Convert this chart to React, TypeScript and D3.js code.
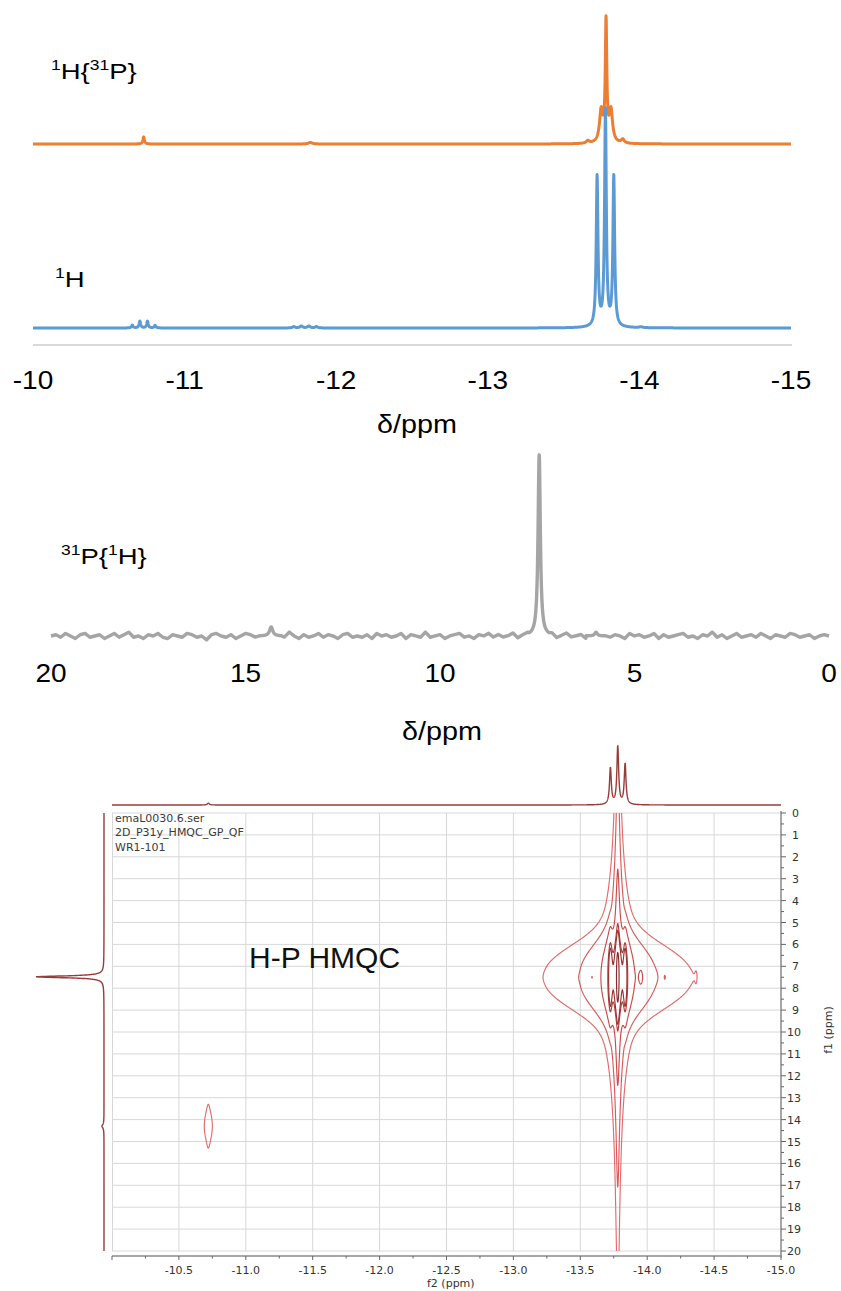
import React, { useMemo } from "react";
import * as d3 from "d3";

// ---------------- DATA ----------------
// Top panel (1H region), ppm ticks
const hTicks = [-10, -11, -12, -13, -14, -15];
// [ppm, relative height, half-width (ppm)]
const orangePeaks = [
  [-13.78, 0.93, 0.006],
  [-13.748, 0.25, 0.013],
  [-13.812, 0.25, 0.013],
  [-13.66, 0.02, 0.012],
  [-13.89, 0.03, 0.012],
  [-10.73, 0.055, 0.006],
  [-11.83, 0.012, 0.015],
];
const bluePeaks = [
  [-13.721, 0.68, 0.0068],
  [-13.776, 0.98, 0.0068],
  [-13.831, 0.68, 0.0068],
  [-10.655, 0.013, 0.006],
  [-10.705, 0.031, 0.006],
  [-10.755, 0.031, 0.006],
  [-10.805, 0.012, 0.006],
  [-11.72, 0.006, 0.01],
  [-11.77, 0.009, 0.01],
  [-11.82, 0.009, 0.01],
  [-11.87, 0.006, 0.01],
  [-14.01, 0.004, 0.012],
];

// Middle panel (31P{1H})
const pTicks = [20, 15, 10, 5, 0];
const pPeaks = [
  [7.45, 1.0, 0.035],
  [14.34, 0.05, 0.05],
  [5.99, 0.02, 0.04],
];
// baseline noise, 20 -> 0 ppm, arbitrary units
const pNoise = [
  0, 1, -1, 2, 0, -2, 1, 2, -1, 0,
  1, -2, 0, 2, -1, 1, 3, -1, 0, -2,
  1, 0, 2, -1, -2, 1, 0, -1, 2, 1,
  -1, 0, -3, 1, 2, 0, -1, 1, -2, 0,
  2, 1, -1, 0, 1, -2, 2, 0, -1, 3,
  0, -2, 1, -1, 0, 2, -1, 1, 0, -2,
  1, 2, -1, 0, -1, 1, -2, 2, 0, 1,
  -1, 0, 2, -2, 1, 0, -1, 3, -1, 0,
  1, -2, 0, 1, 2, -1, 0, -2, 1, 0,
  2, -1, 1, -1, 0, 2, -2, 0, 1, -1,
  3, 0, -1, 1, -2, 0, 2, -1, 0, 1,
  -2, 1, 0, 2, -1, -1, 1, 0, -2, 2,
  0, 1, -1, 0, 2, -2, 1, -1, 0, 1,
  2, -1, 0, -2, 1, 0, 3, -1, 1, -2,
  0, 2, -1, 0, 1, -1, 2, 0, -2, 1,
  0, -1, 2, 1, -1, 0, 1, -2, 0, 1, 0,
];

// 2D HMQC
const f2Ticks = [-10.0, -10.5, -11.0, -11.5, -12.0, -12.5, -13.0, -13.5, -14.0, -14.5, -15.0];
const f1Ticks = d3.range(0, 21, 1);
const hmqcF2 = [-13.725, -13.78, -13.835];
const hmqcAmp = [0.5, 1.0, 0.5];
const hmqcF1 = 7.5;
const hmqcWidthF2 = 0.0113; // triplet line half-width
const hmqcEnvF2 = -13.78; // t1-ridge centre
const hmqcEnvWidth = 0.011;
const contourLevels = [6.6e-4, 2.55e-3, 0.0163, 0.099, 0.15, 0.6];
const contourColors = ["#e26b6b", "#d95a5a", "#cc4a4a", "#b23c3c", "#9a3232", "#862a2a"];
// [f2, f1, amplitude, f2 half-width, f1 sigma]
const hmqcSatellites = [
  [-13.953, 7.5, 0.0168, 0.015, 0.28],
  [-14.365, 7.5, 0.00012, 0.008, 0.3],
  [-13.587, 7.5, 0.0108, 0.01, 0.15],
  [-14.132, 7.5, 0.00095, 0.008, 0.15],
];
const hmqcWeak = [-10.72, 14.3, 0.0066, 0.01, 0.466];
// projections
const projTopPeaks = [
  [-13.725, 0.63, 0.008],
  [-13.78, 1.0, 0.008],
  [-13.835, 0.7, 0.008],
  [-10.72, 0.03, 0.01],
];
const projLeftPeaks = [
  [7.48, 1.0, 0.05],
  [14.3, 0.03, 0.1],
];
const hmqcInfo = ["emaL0030.6.ser", "2D_P31y_HMQC_GP_QF", "WR1-101"];

// ---------------- HELPERS ----------------
function lor(x: number, peaks: number[][]) {
  let s = 0;
  for (const [c, h, w] of peaks) {
    const d = (x - c) / w;
    s += h / (1 + d * d);
  }
  return s;
}
// f1 line shape: flat-topped core and a long tail
function f1Core(d: number) {
  return Math.exp(-Math.pow(Math.abs(d) / 1.45, 2.5));
}
function f1Tail(d: number) {
  return 1 / Math.pow(1 + (d * d) / 3.16, 1.5);
}
function sat(f2: number, f1: number, s: number[]) {
  const [c2, c1, a, w, sg] = s;
  const dx = (f2 - c2) / w;
  const dy = f1 - c1;
  return (a / (1 + dx * dx)) * Math.exp((-dy * dy) / (2 * sg * sg));
}

const ARIAL = "Liberation Sans, Arial, Helvetica, sans-serif";
const MNOVA = "DejaVu Sans, Verdana, sans-serif";

export default function App() {
  const W = 841;
  const H = 1291;

  // ---- top panel ----
  const xH = d3.scaleLinear().domain([-10, -15]).range([33, 791]);
  const yOr = d3.scaleLinear().domain([0, 1]).range([144, 16]);
  const yBl = d3.scaleLinear().domain([0, 1]).range([328, 108]);
  const hGrid = d3.range(0, 5001).map((i) => -10 - i * 0.001);
  const orangeD = d3.line<number>().x((p) => xH(p)).y((p) => yOr(lor(p, orangePeaks)))(hGrid);
  const blueD = d3.line<number>().x((p) => xH(p)).y((p) => yBl(lor(p, bluePeaks)))(hGrid);

  // ---- middle panel ----
  const xP = d3.scaleLinear().domain([20, 0]).range([51, 829]);
  const yP = d3.scaleLinear().domain([0, 1]).range([636, 455]);
  const grayD = useMemo(() => {
    const windows = pPeaks.map(([c]) => [c - 0.25, c + 0.25]);
    const pts: number[][] = [];
    pNoise.forEach((n, i) => {
      const p = 20 - (i * 20) / (pNoise.length - 1);
      if (!windows.some(([a, b]) => p > a && p < b)) pts.push([p, lor(p, pPeaks) + n * 0.007]);
    });
    windows.forEach(([a, b]) => {
      for (let p = a; p <= b; p += 0.002) pts.push([p, lor(p, pPeaks)]);
    });
    pts.sort((u, v) => v[0] - u[0]);
    return d3.line<number[]>().x((d) => xP(d[0])).y((d) => yP(d[1]))(pts);
  }, []);

  // ---- 2D panel ----
  const x2 = d3.scaleLinear().domain([-10, -15]).range([112, 781]);
  const y2 = d3.scaleLinear().domain([0, 20]).range([813, 1251]);

  const contours = useMemo(() => {
    const out: { d: string; level: number }[] = [];
    const build = (f2a: number, f2b: number, nx: number, f1a: number, f1b: number, ny: number, levels: number[], useMain: boolean) => {
      const vals = new Array(nx * ny);
      const ftrip = new Float64Array(nx);
      const fenv = new Float64Array(nx);
      const core = new Float64Array(ny);
      const tail = new Float64Array(ny);
      for (let i = 0; i < nx; i++) {
        const f2 = f2a + ((f2b - f2a) * i) / (nx - 1);
        let s = 0;
        for (let k = 0; k < hmqcF2.length; k++) {
          const d = (f2 - hmqcF2[k]) / hmqcWidthF2;
          s += hmqcAmp[k] / (1 + d * d);
        }
        ftrip[i] = s;
        const e = (f2 - hmqcEnvF2) / hmqcEnvWidth;
        fenv[i] = 1 / (1 + e * e);
      }
      for (let j = 0; j < ny; j++) {
        const f1 = f1a + ((f1b - f1a) * j) / (ny - 1);
        core[j] = 0.58 * f1Core(f1 - hmqcF1);
        tail[j] = 0.42 * f1Tail(f1 - hmqcF1);
      }
      for (let j = 0; j < ny; j++) {
        const f1 = f1a + ((f1b - f1a) * j) / (ny - 1);
        for (let i = 0; i < nx; i++) {
          const f2 = f2a + ((f2b - f2a) * i) / (nx - 1);
          let v = 0;
          if (useMain) {
            v = ftrip[i] * core[j] + fenv[i] * tail[j];
            for (const s of hmqcSatellites) v += sat(f2, f1, s);
          } else v = sat(f2, f1, hmqcWeak);
          vals[i + j * nx] = v;
        }
      }
      const cs = d3.contours().size([nx, ny]).thresholds(levels)(vals);
      const proj = d3.geoTransform({
        point(x: number, y: number) {
          // @ts-ignore
          this.stream.point(
            x2(f2a + ((f2b - f2a) * (x - 0.5)) / (nx - 1)),
            y2(f1a + ((f1b - f1a) * (y - 0.5)) / (ny - 1))
          );
        },
      });
      const path = d3.geoPath(proj);
      cs.forEach((c) => {
        const d = path(c as any);
        if (d) out.push({ d, level: levels.indexOf(c.value) });
      });
    };
    build(-13.0, -14.6, 641, -1, 21, 441, contourLevels, true);
    build(-10.6, -10.84, 97, 11.5, 17, 111, [contourLevels[0]], false);
    return out;
  }, []);

  const yProj = d3.scaleLinear().domain([0, 1]).range([805, 747]);
  const topProjD = d3.line<number>().x((p) => x2(p)).y((p) => yProj(lor(p, projTopPeaks)))(hGrid);
  const xProj = d3.scaleLinear().domain([0, 1]).range([104, 36]);
  const f1Grid = d3.range(0, 4001).map((i) => i * 0.005);
  const leftProjD = d3.line<number>().x((p) => xProj(lor(p, projLeftPeaks))).y((p) => y2(p))(f1Grid);

  const gridCol = "#d8d8d8";
  const axisCol = "#8a8a8a";

  return (
    <svg width={W} height={H} style={{ position: "absolute", left: 0, top: 0, display: "block", background: "#fff" }}>
      <rect x={0} y={0} width={W} height={H} fill="#fff" />
      {/* ===== TOP PANEL ===== */}
      <line x1={33} x2={792} y1={345} y2={345} stroke="#d9d9d9" strokeWidth={2} />
      <path d={orangeD || ""} fill="none" stroke="#ed7d31" strokeWidth={3} strokeLinejoin="round" />
      <path d={blueD || ""} fill="none" stroke="#5b9bd5" strokeWidth={3} strokeLinejoin="round" />
      {hTicks.map((t) => (
        <text key={t} transform={`translate(${xH(t)},389) scale(1.12,1)`} textAnchor="middle" fontSize={25} fontFamily={ARIAL} fill="#000">
          {String(t)}
        </text>
      ))}
      <text transform="translate(417,433) scale(1.15,1)" textAnchor="middle" fontSize={25} fontFamily={ARIAL} fill="#000">
        δ/ppm
      </text>
      <text transform="translate(51,79) scale(1.25,1)" fontSize={22} fontFamily={ARIAL} fill="#000">
        <tspan fontSize={14} dy={-9}>1</tspan>
        <tspan dy={9}>{"H{"}</tspan>
        <tspan fontSize={14} dy={-9}>31</tspan>
        <tspan dy={9}>{"P}"}</tspan>
      </text>
      <text transform="translate(55,287) scale(1.25,1)" fontSize={22} fontFamily={ARIAL} fill="#000">
        <tspan fontSize={14} dy={-9}>1</tspan>
        <tspan dy={9}>H</tspan>
      </text>

      {/* ===== MIDDLE PANEL ===== */}
      <path d={grayD || ""} fill="none" stroke="#a5a5a5" strokeWidth={3.4} strokeLinejoin="round" />
      {pTicks.map((t) => (
        <text key={t} transform={`translate(${xP(t)},682) scale(1.12,1)`} textAnchor="middle" fontSize={25} fontFamily={ARIAL} fill="#000">
          {String(t)}
        </text>
      ))}
      <text transform="translate(442,740) scale(1.15,1)" textAnchor="middle" fontSize={25} fontFamily={ARIAL} fill="#000">
        δ/ppm
      </text>
      <text transform="translate(61,564) scale(1.25,1)" fontSize={22} fontFamily={ARIAL} fill="#000">
        <tspan fontSize={14} dy={-9}>31</tspan>
        <tspan dy={9}>{"P{"}</tspan>
        <tspan fontSize={14} dy={-9}>1</tspan>
        <tspan dy={9}>{"H}"}</tspan>
      </text>

      {/* ===== 2D PANEL ===== */}
      <defs>
        <clipPath id="plotClip">
          <rect x={112} y={813} width={669} height={438} />
        </clipPath>
      </defs>
      {/* grid */}
      {f2Ticks.slice(1, -1).map((t) => (
        <line key={"gv" + t} x1={x2(t)} x2={x2(t)} y1={813} y2={1251} stroke={gridCol} strokeWidth={1} />
      ))}
      {f1Ticks.map((t) => (
        <line key={"gh" + t} x1={112} x2={781} y1={y2(t)} y2={y2(t)} stroke={gridCol} strokeWidth={1} />
      ))}
      <line x1={112.5} x2={112.5} y1={813} y2={1251} stroke={gridCol} strokeWidth={1} />

      {/* info text */}
      {hmqcInfo.map((s, i) => (
        <text key={s} x={115} y={822 + i * 14.3} fontSize={11} fontFamily={MNOVA} fill="#3a3a3a">
          {s}
        </text>
      ))}
      <text x={249} y={968} fontSize={30} fontFamily={ARIAL} fill="#111">
        H-P HMQC
      </text>

      {/* contours */}
      <g clipPath="url(#plotClip)">
        {contours.map((c, i) => (
          <path key={i} d={c.d} fill="none" stroke={contourColors[c.level]} strokeWidth={1.15} strokeLinejoin="round" />
        ))}
      </g>

      {/* projections */}
      <path d={topProjD || ""} fill="none" stroke="#9a3b3b" strokeWidth={1.4} />
      <path d={leftProjD || ""} fill="none" stroke="#9a3b3b" strokeWidth={1.4} />

      {/* bottom axis */}
      <line x1={112} x2={782} y1={1256} y2={1256} stroke={axisCol} strokeWidth={1.5} />
      {d3.range(0, 21).map((i) => {
        const v = -10 - i * 0.25;
        const major = i % 2 === 0;
        return <line key={"bt" + i} x1={x2(v)} x2={x2(v)} y1={1256} y2={major ? 1260 : 1258.5} stroke="#666" strokeWidth={1} />;
      })}
      {f2Ticks.slice(1).map((t) => (
        <text key={"bl" + t} x={x2(t)} y={1274} textAnchor="middle" fontSize={11} fontFamily={MNOVA} fill="#333">
          {t.toFixed(1)}
        </text>
      ))}
      <text x={427} y={1287} fontSize={11} fontFamily={MNOVA} fill="#333">
        f2 (ppm)
      </text>

      {/* right axis */}
      <line x1={781} x2={781} y1={811} y2={1258} stroke={axisCol} strokeWidth={1.5} />
      {d3.range(0, 41).map((i) => {
        const v = i * 0.5;
        const major = i % 2 === 0;
        return <line key={"rt" + i} x1={781} x2={major ? 786 : 784} y1={y2(v)} y2={y2(v)} stroke="#666" strokeWidth={1} />;
      })}
      {f1Ticks.map((t) => (
        <text key={"rl" + t} x={787 + (String(t).length === 1 ? 5 : 0)} y={y2(t) + 4} fontSize={11} fontFamily={MNOVA} fill="#333">
          {String(t)}
        </text>
      ))}
      <text transform="translate(832,1030) rotate(-90)" textAnchor="middle" fontSize={11} fontFamily={MNOVA} fill="#333">
        f1 (ppm)
      </text>
    </svg>
  );
}
